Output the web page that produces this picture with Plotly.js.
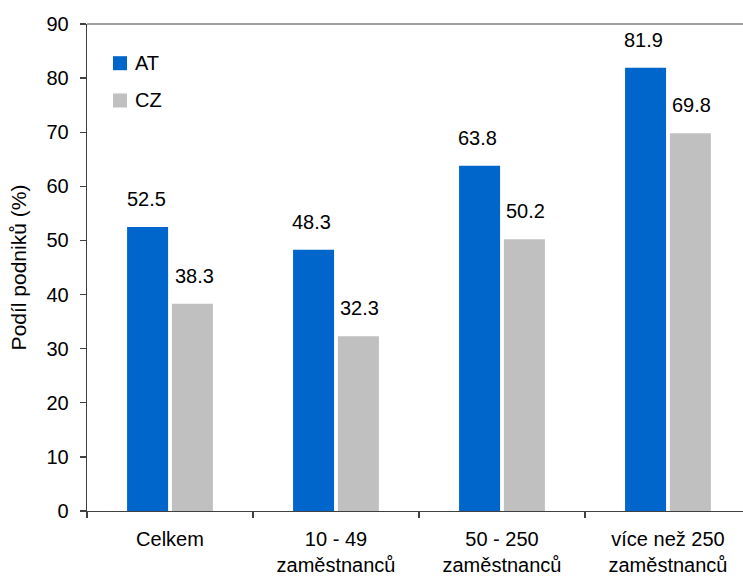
<!DOCTYPE html>
<html>
<head>
<meta charset="utf-8">
<script src="https://cdn.plot.ly/plotly-3.0.1.min.js"></script>
<style>
  html, body { margin: 0; padding: 0; background: #ffffff; }
  #chart { width: 743px; height: 581px; }
</style>
</head>
<body>
<div id="chart"></div>
<script>
// Podíl podniků podle velikosti (AT vs. CZ)
const categories = ["Celkem", "10 - 49<br>zaměstnanců", "50 - 250<br>zaměstnanců", "více než 250<br>zaměstnanců"];
const seriesNames = ["AT", "CZ"];
const valuesAT = [52.5, 48.3, 63.8, 81.9];
const valuesCZ = [38.3, 32.3, 50.2, 69.8];
const seriesColors = ["#0066cc", "#c0c0c0"];
const yTicks = [0, 10, 20, 30, 40, 50, 60, 70, 80, 90];

const FONT = "'Liberation Sans', Arial, Helvetica, sans-serif";
const seriesValues = [valuesAT, valuesCZ];

const traces = seriesValues.map((vals, i) => ({
  type: "bar",
  name: seriesNames[i],
  x: categories,
  y: vals,
  marker: { color: seriesColors[i], line: { width: 0 } },
  hoverinfo: "x+y+name",
  showlegend: false
}));

// value labels above each bar
const groupOffset = 24; // half the distance between paired bar centres, px
const annotations = [];
seriesValues.forEach((vals, i) => {
  vals.forEach((v, j) => {
    annotations.push({
      x: categories[j], y: v, xref: "x", yref: "y",
      xshift: i === 0 ? -groupOffset : groupOffset,
      yshift: 15,
      yanchor: "bottom", xanchor: "center",
      text: v.toFixed(1), showarrow: false,
      font: { family: FONT, size: 20, color: "#000000" }
    });
  });
});

// hand-drawn legend: swatch + label per series
const shapes = [
  // upper frame line of the plotting area
  { type: "line", xref: "paper", yref: "paper", x0: 0, x1: 1, y0: 1, y1: 1,
    line: { color: "#808080", width: 1.5 } }
];
const legendRows = [0.9195, 0.843];
seriesNames.forEach((name, i) => {
  const yc = legendRows[i];
  shapes.push({
    type: "rect", xref: "paper", yref: "paper",
    x0: 0.0396, x1: 0.0610, y0: yc - 0.0144, y1: yc + 0.0144,
    fillcolor: seriesColors[i], line: { width: 0 }
  });
  annotations.push({
    xref: "paper", yref: "paper", x: 0.0701, y: yc,
    xanchor: "left", yanchor: "middle", showarrow: false,
    text: name, font: { family: FONT, size: 20, color: "#000000" }
  });
});

const layout = {
  width: 743, height: 581,
  margin: { l: 87, r: 0, t: 24, b: 70, pad: 0 },
  paper_bgcolor: "#ffffff", plot_bgcolor: "#ffffff",
  font: { family: FONT, size: 20, color: "#000000" },
  barmode: "group",
  bargap: 0.46,
  bargroupgap: 0.085,
  showlegend: false,
  xaxis: {
    type: "category",
    range: [-0.5, 3.452],
    tickson: "boundaries",
    ticks: "outside", ticklen: 6, tickwidth: 1.3, tickcolor: "#404040",
    showline: true, linecolor: "#404040", linewidth: 1.3,
    showgrid: false, zeroline: false,
    ticklabelstandoff: 10,
    tickfont: { family: FONT, size: 20, color: "#000000" },
    fixedrange: true
  },
  yaxis: {
    range: [0, 90],
    tickvals: yTicks,
    ticktext: yTicks.map(String),
    ticks: "outside", ticklen: 6, tickwidth: 1.3, tickcolor: "#404040",
    showline: true, linecolor: "#404040", linewidth: 1.3,
    showgrid: false, zeroline: false,
    ticklabelstandoff: 7,
    tickfont: { family: FONT, size: 20, color: "#000000" },
    title: { text: "Podíl podniků (%)", standoff: 14,
             font: { family: FONT, size: 21, color: "#000000" } },
    fixedrange: true
  },
  shapes: shapes,
  annotations: annotations
};

Plotly.newPlot("chart", traces, layout, { staticPlot: true, displayModeBar: false });
</script>
</body>
</html>
